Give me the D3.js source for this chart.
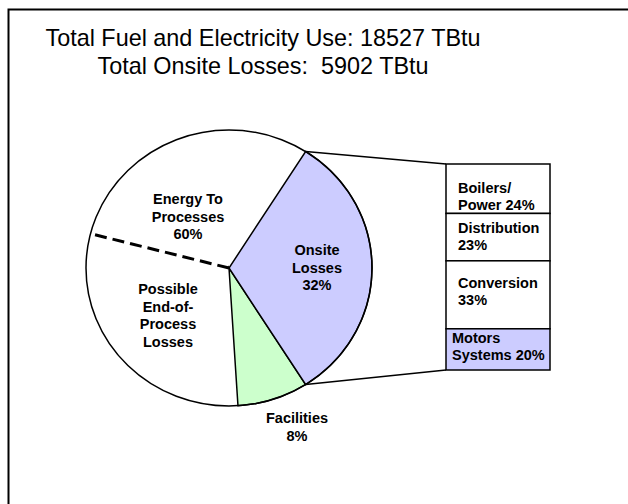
<!DOCTYPE html>
<html>
<head>
<meta charset="utf-8">
<script src="https://cdn.jsdelivr.net/npm/d3@7"></script>
<style>
  html, body { margin: 0; padding: 0; background: #fff; overflow: hidden; }
  svg { display: block; font-family: "Liberation Sans", Arial, sans-serif; }
</style>
</head>
<body>
<svg id="chart" width="628" height="504"></svg>
<script>
// pie slices (clockwise, starting with onsite losses)
const sliceNames = ["Onsite Losses", "Facilities", "Possible End-of-Process Losses", "Energy To Processes"];
const sliceValues = [32, 8, 30, 30];
const sliceColors = ["#ccccff", "#ccffcc", "#ffffff", "#ffffff"];

// breakdown of onsite losses (top to bottom)
const lossNames = ["Boilers/ Power", "Distribution", "Conversion", "Motors Systems"];
const lossValues = [24, 23, 33, 20];
const lossColors = ["#ffffff", "#ffffff", "#ffffff", "#ccccff"];

const titleLines = ["Total Fuel and Electricity Use: 18527 TBtu", "Total Onsite Losses:  5902 TBtu"];

const svg = d3.select("#chart");

// slide frame (only the left and top edges fall inside the picture)
svg.append("path")
  .attr("d", "M8.5,504V9.5H628")
  .attr("fill", "none")
  .attr("stroke", "#000")
  .attr("stroke-width", 2);

// Title
svg.append("g")
  .selectAll("text")
  .data(titleLines)
  .join("text")
  .attr("x", 263)
  .attr("y", (d, i) => 46 + i * 28)
  .attr("text-anchor", "middle")
  .style("font-size", "23.4px")
  .style("white-space", "pre")
  .text((d) => d);

const cx = 229, cy = 268, r = 143, ky = 138 / 143;
const deg = Math.PI / 180;

const pie = d3.pie().sort(null)
  .startAngle(32.4 * deg)
  .endAngle(392.4 * deg);
const arcs = pie(sliceValues);
const arc = d3.arc().innerRadius(0).outerRadius(r);

// point on the (slightly squashed) pie edge
const edge = (a) => [cx + r * Math.sin(a), cy - r * Math.cos(a) * ky];

const pieG = svg.append("g")
  .attr("transform", `translate(${cx},${cy}) scale(1,${ky})`);

// white slices first so the coloured slice outlines stay on top
pieG.selectAll("path")
  .data(arcs.slice().reverse())
  .join("path")
  .attr("d", arc)
  .attr("fill", (d) => sliceColors[d.index])
  .attr("stroke", (d) => (d.index < 2 ? "#000" : "none"))
  .attr("stroke-width", 1.5)
  .attr("vector-effect", "non-scaling-stroke");

pieG.append("circle")
  .attr("r", r)
  .attr("fill", "none")
  .attr("stroke", "#000")
  .attr("stroke-width", 1.5)
  .attr("vector-effect", "non-scaling-stroke");

// dashed split inside the energy to processes share
const split = edge(arcs[2].endAngle);
svg.append("line")
  .attr("x1", cx).attr("y1", cy)
  .attr("x2", split[0]).attr("y2", split[1])
  .attr("stroke", "#000")
  .attr("stroke-width", 3)
  .attr("stroke-dasharray", "12,6");

// stacked breakdown bar
const barX = 446, barW = 104;
const y = d3.scaleLinear().domain([0, d3.sum(lossValues)]).range([164, 370]);
const cum = d3.cumsum(lossValues);
const segs = lossValues.map((v, i) => ({ name: lossNames[i], v, y0: cum[i] - v, y1: cum[i] }));

// connectors from the onsite slice to the bar
const pTop = edge(arcs[0].startAngle), pBot = edge(arcs[0].endAngle);
svg.append("line")
  .attr("x1", pTop[0]).attr("y1", pTop[1])
  .attr("x2", barX).attr("y2", y(0))
  .attr("stroke", "#000").attr("stroke-width", 1.5);
svg.append("line")
  .attr("x1", pBot[0]).attr("y1", pBot[1])
  .attr("x2", barX).attr("y2", y(d3.sum(lossValues)))
  .attr("stroke", "#000").attr("stroke-width", 1.5);

svg.append("g")
  .selectAll("rect")
  .data(segs)
  .join("rect")
  .attr("x", barX)
  .attr("y", (d) => y(d.y0))
  .attr("width", barW)
  .attr("height", (d) => y(d.y1) - y(d.y0))
  .attr("fill", (d, i) => lossColors[i])
  .attr("stroke", "#000")
  .attr("stroke-width", 1.5);

// bar labels
const barLabels = [
  { x: 458, y: 193, lines: ["Boilers/", "Power " + lossValues[0] + "%"] },
  { x: 458, y: 233, lines: ["Distribution", lossValues[1] + "%"] },
  { x: 458, y: 288, lines: ["Conversion", lossValues[2] + "%"] },
  { x: 452, y: 343, lines: ["Motors", "Systems " + lossValues[3] + "%"] },
];
barLabels.forEach((l) => {
  const t = svg.append("text")
    .attr("x", l.x).attr("y", l.y)
    .style("font-size", "14.5px")
    .style("font-weight", "bold");
  l.lines.forEach((s, i) => {
    t.append("tspan").attr("x", l.x).attr("dy", i ? 17 : 0).text(s);
  });
});

// pie labels
const pieLabels = [
  { x: 188, y: 204, lines: ["Energy To", "Processes", "60%"] },
  { x: 317, y: 255, lines: ["Onsite", "Losses", sliceValues[0] + "%"] },
  { x: 168, y: 294, lines: ["Possible", "End-of-", "Process", "Losses"] },
  { x: 297, y: 423, lines: ["Facilities", sliceValues[1] + "%"] },
];
pieLabels.forEach((l) => {
  const t = svg.append("text")
    .attr("x", l.x).attr("y", l.y)
    .attr("text-anchor", "middle")
    .style("font-size", "14.5px")
    .style("font-weight", "bold");
  l.lines.forEach((s, i) => {
    t.append("tspan").attr("x", l.x).attr("dy", i ? 17.5 : 0).text(s);
  });
});
</script>
</body>
</html>
